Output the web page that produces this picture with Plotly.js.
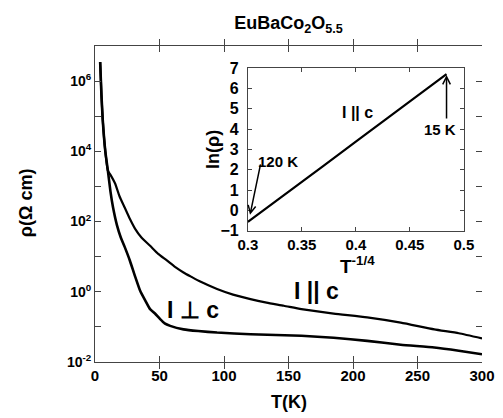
<!DOCTYPE html>
<html>
<head>
<meta charset="utf-8">
<script src="https://cdn.plot.ly/plotly-3.0.1.min.js"></script>
<style>html,body{margin:0;padding:0;background:#fff;}#chart{width:503px;height:418px;}</style>
</head>
<body>
<div id="chart"></div>
<script>
// Main plot: resistivity vs temperature
const T_perp = [4, 5, 6, 8, 10, 12, 14, 17, 20, 23, 27, 31, 35, 39, 42.7, 46.5, 50.5, 54, 58.3, 68.6, 80, 94.6, 120.5, 160, 185, 211, 237, 263, 282, 300];
const rho_perp = [3.5e6, 4.0e5, 7.9e4, 1.0e4, 2.8e3, 710, 250, 79, 35, 19, 7.8, 2.8, 1.07, 0.56, 0.32, 0.24, 0.166, 0.126, 0.107, 0.085, 0.076, 0.069, 0.062, 0.056, 0.049, 0.040, 0.031, 0.026, 0.021, 0.0166];
const T_par = [4, 5, 6, 8, 10, 12, 15.5, 19, 23, 27, 31, 36, 42.7, 49, 55.7, 62, 68.6, 75, 81.6, 94.6, 107, 120.5, 133, 146.4, 160, 185, 211, 237, 263, 282, 300];
const rho_par = [3.5e6, 4.0e5, 7.9e4, 1.0e4, 2.8e3, 2140, 1230, 525, 250, 120, 63, 35, 20.4, 12.0, 7.8, 5.1, 3.55, 2.63, 1.95, 1.20, 0.83, 0.62, 0.49, 0.40, 0.32, 0.24, 0.186, 0.132, 0.085, 0.066, 0.047];
// Inset: ln(rho) vs T^-1/4
const inset_x = [0.300, 0.31, 0.33, 0.35, 0.37, 0.40, 0.43, 0.46, 0.484];
const inset_y = [-0.56, -0.17, 0.62, 1.41, 2.20, 3.39, 4.57, 5.75, 6.70];
// Tick labels
const xTicks = [0, 50, 100, 150, 200, 250, 300];
const yTickVals = [1e-2, 1e-1, 1e0, 1e1, 1e2, 1e3, 1e4, 1e5, 1e6, 1e7];
const yTickText = ['10<sup>-2</sup>', '', '10<sup>0</sup>', '', '10<sup>2</sup>', '', '10<sup>4</sup>', '', '10<sup>6</sup>', ''];
const insetXTicks = [0.3, 0.35, 0.4, 0.45, 0.5];
const insetXText = ['0.3', '0.35', '0.4', '0.45', '0.5'];
const insetYTicks = [-1, 0, 1, 2, 3, 4, 5, 6, 7];

const FONT = 'Liberation Sans, Arial, Helvetica, sans-serif';
const AX = '#444';

const traces = [
  {x: T_par, y: rho_par, mode: 'lines', line: {color: '#000', width: 2.2, shape: 'spline', smoothing: 0.5}, xaxis: 'x', yaxis: 'y', hoverinfo: 'skip'},
  {x: T_perp, y: rho_perp, mode: 'lines', line: {color: '#000', width: 2.6, shape: 'spline', smoothing: 0.5}, xaxis: 'x', yaxis: 'y', hoverinfo: 'skip'},
  {x: [0], y: [1], mode: 'markers', marker: {opacity: 0}, xaxis: 'x', yaxis: 'y4', hoverinfo: 'skip'},
  {x: inset_x, y: inset_y, mode: 'lines', line: {color: '#000', width: 2.2}, xaxis: 'x2', yaxis: 'y3', hoverinfo: 'skip'}
];

const bold = {family: FONT, size: 15, color: '#000', weight: 'bold'};

const layout = {
  width: 503, height: 418,
  margin: {l: 95, r: 21, t: 46, b: 56},
  paper_bgcolor: '#fff', plot_bgcolor: '#fff',
  showlegend: false,
  title: {text: 'EuBaCo<sub>2</sub>O<sub>5.5</sub>', font: {family: FONT, size: 18, color: '#000', weight: 'bold'},
          x: 0.5, xref: 'paper', y: 0.945, yref: 'container', yanchor: 'middle'},
  xaxis: {domain: [0, 1], range: [0, 300], tickvals: xTicks, ticks: 'inside', ticklen: 6, tickcolor: AX,
          showline: true, linecolor: AX, linewidth: 1, mirror: 'allticks', showgrid: false, zeroline: false,
          tickfont: bold, anchor: 'y'},
  yaxis: {domain: [0, 1], type: 'log', range: [-2, 7], tickvals: yTickVals, ticktext: yTickText,
          ticks: 'inside', ticklen: 6, tickcolor: AX, showline: true, linecolor: AX, linewidth: 1,
          showgrid: false, zeroline: false, tickfont: {family: FONT, size: 14, color: '#000', weight: 'bold'}, anchor: 'x'},
  yaxis4: {overlaying: 'y', side: 'right', type: 'log', range: [-2, 7], tickvals: yTickVals,
           ticks: 'inside', ticklen: 6, tickcolor: AX, showline: false, showticklabels: false, showgrid: false, zeroline: false, anchor: 'x'},
  xaxis2: {domain: [0.395, 0.953], range: [0.3, 0.5], tickvals: insetXTicks, ticktext: insetXText,
           ticks: 'inside', ticklen: 4, tickcolor: AX, showline: true, linecolor: AX, linewidth: 1, mirror: 'ticks',
           showgrid: false, zeroline: false, tickfont: bold, anchor: 'y3'},
  yaxis3: {domain: [0.415, 0.930], range: [-1, 7], tickvals: insetYTicks,
           ticks: 'inside', ticklen: 4, tickcolor: AX, showline: true, linecolor: AX, linewidth: 1, mirror: 'ticks',
           showgrid: false, zeroline: false, ticklabelstandoff: 5,
           tickfont: {family: FONT, size: 16, color: '#000', weight: 'bold'}, anchor: 'x2'},
  annotations: [
    {text: 'ρ(Ω cm)', xref: 'paper', yref: 'paper', x: -0.178, y: 0.503, textangle: -90, showarrow: false,
     font: {family: FONT, size: 18, color: '#000', weight: 'bold'}, xanchor: 'center', yanchor: 'middle'},
    {text: 'T(K)', xref: 'paper', yref: 'paper', x: 0.501, y: -0.127, showarrow: false,
     font: {family: FONT, size: 18, color: '#000', weight: 'bold'}, xanchor: 'center', yanchor: 'middle'},
    {text: 'ln(ρ)', xref: 'paper', yref: 'paper', x: 0.305, y: 0.671, textangle: -90, showarrow: false,
     font: {family: FONT, size: 18, color: '#000', weight: 'bold'}, xanchor: 'center', yanchor: 'middle'},
    {text: 'T<sup>-1/4</sup>', xref: 'paper', yref: 'paper', x: 0.628, y: 0.307, showarrow: false,
     font: {family: FONT, size: 19, color: '#000', weight: 'bold'}, xanchor: 'left', yanchor: 'middle'},
    {text: 'I || c', xref: 'x', yref: 'y', x: 171.8, y: 0.03, showarrow: false,
     font: {family: FONT, size: 23, color: '#000', weight: 'bold'}, xanchor: 'center', yanchor: 'middle'},
    {text: 'I ⊥ c', xref: 'x', yref: 'y', x: 75.6, y: -0.52, showarrow: false,
     font: {family: FONT, size: 23, color: '#000', weight: 'bold'}, xanchor: 'center', yanchor: 'middle'},
    {text: 'I || c', xref: 'x2', yref: 'y3', x: 0.402, y: 4.84, showarrow: false,
     font: {family: FONT, size: 16, color: '#000', weight: 'bold'}, xanchor: 'center', yanchor: 'middle'},
    {text: '120 K', xref: 'x2', yref: 'y3', x: 0.328, y: 2.39, showarrow: false,
     font: {family: FONT, size: 15, color: '#000', weight: 'bold'}, xanchor: 'center', yanchor: 'middle'},
    {text: '15 K', xref: 'x2', yref: 'y3', x: 0.478, y: 4.0, showarrow: false,
     font: {family: FONT, size: 15, color: '#000', weight: 'bold'}, xanchor: 'center', yanchor: 'middle'},
    {text: '', xref: 'x2', yref: 'y3', x: 0.302, y: -0.21, axref: 'x2', ayref: 'y3', ax: 0.312, ay: 2.34,
     showarrow: true, arrowhead: 5, arrowsize: 1, arrowwidth: 1.5, arrowcolor: '#000'},
    {text: '', xref: 'x2', yref: 'y3', x: 0.484, y: 6.66, axref: 'x2', ayref: 'y3', ax: 0.484, ay: 4.45,
     showarrow: true, arrowhead: 5, arrowsize: 1, arrowwidth: 1.5, arrowcolor: '#000'}
  ]
};

Plotly.newPlot('chart', traces, layout, {staticPlot: true, displayModeBar: false});
</script>
</body>
</html>
